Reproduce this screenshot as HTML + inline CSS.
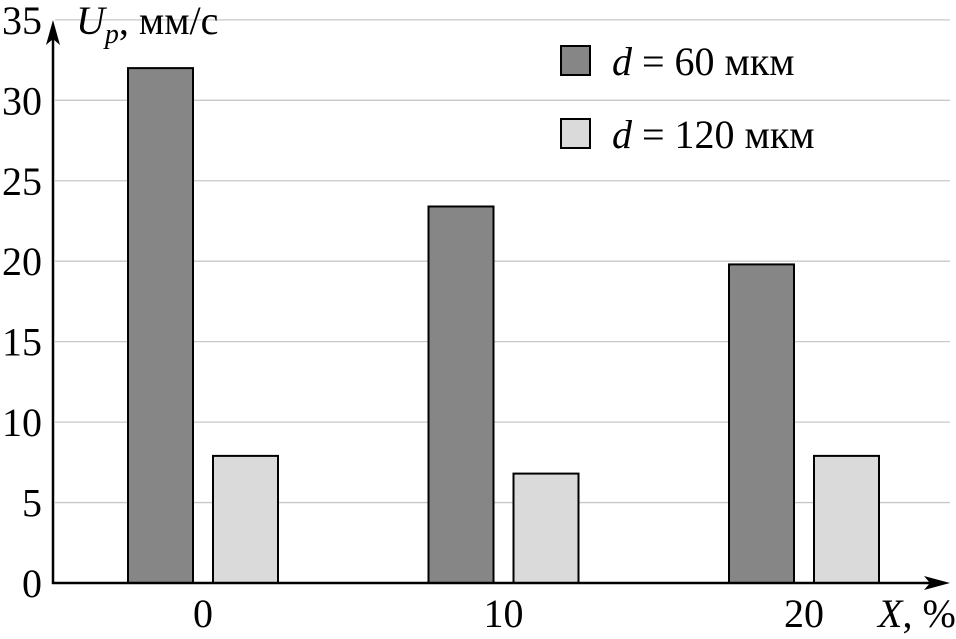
<!DOCTYPE html>
<html><head><meta charset="utf-8"><style>
body{margin:0;background:#fff}
svg{display:block;font-family:"Liberation Serif",serif}
</style></head><body>
<svg id="c" width="956" height="639" viewBox="0 0 956 639"></svg>
<script>
const categories=["0","10","20"];
const series60=[32,23.4,19.8];
const series120=[7.9,6.8,7.9];
const yTicks=[0,5,10,15,20,25,30,35];
const NS="http://www.w3.org/2000/svg";
const svg=document.getElementById('c');
const y0=583,pxPerUnit=16.09;
const y=v=>y0-v*pxPerUnit;
const xc=i=>203+i*300.5;
function mk(t,a,txt){const e=document.createElementNS(NS,t);for(const k in a)e.setAttribute(k,a[k]);if(txt!==undefined)e.textContent=txt;svg.appendChild(e);return e;}
yTicks.forEach(t=>{
 if(t>0){const g=mk('line',{x1:55,x2:950,y1:y(t),y2:y(t),stroke:'#c8c8c8','stroke-width':1.3});
 
 }
 const l=mk('text',{x:42,y:y(t)+14,'text-anchor':'end','font-size':40},String(t));
 
 
});
categories.forEach((c,i)=>{
 const b1=mk('rect',{x:xc(i)-75,y:y(series60[i]),width:65,height:y0-y(series60[i]),fill:'#868686',stroke:'#000','stroke-width':2});
 
 
 const b2=mk('rect',{x:xc(i)+10,y:y(series120[i]),width:65,height:y0-y(series120[i]),fill:'#dadada',stroke:'#000','stroke-width':2});
 
 
 const t=mk('text',{x:xc(i),y:627,'text-anchor':'middle','font-size':40},c);
 
 
});
</script>
<script>
(function(){
const NS="http://www.w3.org/2000/svg",svg=document.getElementById('c');
function mk(t,a,txt){const e=document.createElementNS(NS,t);for(const k in a)e.setAttribute(k,a[k]);if(txt!==undefined)e.innerHTML=txt;svg.appendChild(e);return e;}
let e;
e=mk('line',{x1:53,y1:584,x2:53,y2:30,stroke:'#000','stroke-width':2.5});

e=mk('path',{d:'M53,20 L46,45 L53,39 L60,45 Z',fill:'#000'});

e=mk('line',{x1:52,y1:583,x2:938,y2:583,stroke:'#000','stroke-width':2.5});

e=mk('path',{d:'M950,583 L924,576 L930,583 L924,590 Z',fill:'#000'});

e=mk('text',{x:76,y:34,'font-size':40},'<tspan font-style="italic">U</tspan><tspan font-style="italic" font-size="28" dy="9">p</tspan><tspan dy="-9">, мм/с</tspan>');

e=mk('text',{x:878,y:627,'font-size':40},'<tspan font-style="italic">X</tspan>, %');

e=mk('rect',{x:561,y:46,width:29,height:29,fill:'#868686',stroke:'#000','stroke-width':2});

e=mk('text',{x:612,y:75,'font-size':40},'<tspan font-style="italic">d</tspan> = 60 мкм');

e=mk('rect',{x:561,y:119,width:29,height:29,fill:'#dadada',stroke:'#000','stroke-width':2});

e=mk('text',{x:612,y:148,'font-size':40},'<tspan font-style="italic">d</tspan> = 120 мкм');

})();
</script>
</body></html>
